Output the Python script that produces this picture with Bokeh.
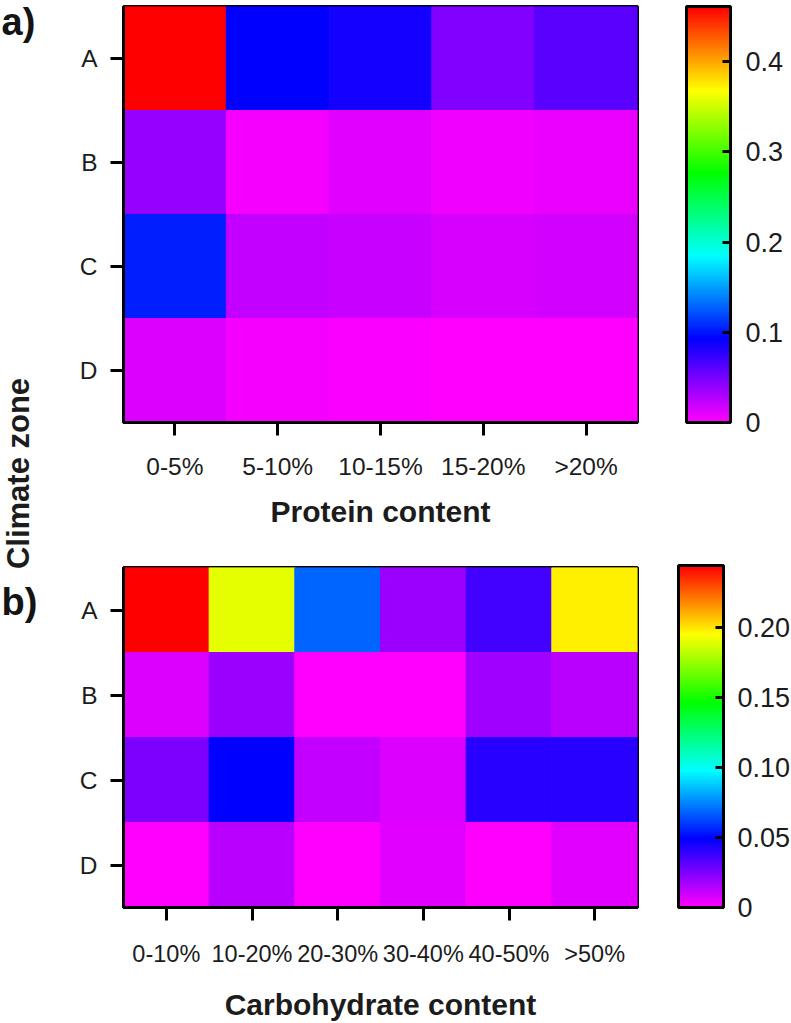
import colorsys
from math import pi

from bokeh.plotting import figure
from bokeh.models import (ColumnDataSource, LinearColorMapper, ColorBar, FixedTicker,
                          NumeralTickFormatter, Label, FactorRange, Range1d)
from bokeh.transform import transform
from bokeh.layouts import column, row
from bokeh.embed import file_html
from bokeh.resources import INLINE

# ---------------- data ----------------
zones = ["A", "B", "C", "D"]

protein_bins = ["0-5%", "5-10%", "10-15%", "15-20%", ">20%"]
protein_A = [0.460, 0.092, 0.085, 0.046, 0.061]
protein_B = [0.038, 0.004, 0.011, 0.007, 0.009]
protein_C = [0.103, 0.022, 0.020, 0.016, 0.018]
protein_D = [0.014, 0.005, 0.002, 0.000, 0.000]
protein_ticks = [0, 0.1, 0.2, 0.3, 0.4]
protein_max = 0.461

carb_bins = ["0-10%", "10-20%", "20-30%", "30-40%", "40-50%", ">50%"]
carb_A = [0.244, 0.190, 0.068, 0.020, 0.037, 0.198]
carb_B = [0.007, 0.020, 0.000, 0.000, 0.019, 0.014]
carb_C = [0.025, 0.049, 0.012, 0.007, 0.041, 0.041]
carb_D = [0.000, 0.014, 0.000, 0.006, 0.000, 0.006]
carb_ticks = [0, 0.05, 0.10, 0.15, 0.20]
carb_max = 0.244

# ---------------- style ----------------
FONT = "Liberation Sans"
TXT = "#1c1c1c"
TOTAL_W = 791
TOTAL_H = 1023
STRIP_W = 40            # narrow left strip holding the panel letters and shared y title
W = TOTAL_W - STRIP_W
LEFT = 123 - STRIP_W    # frame left edge at x = 123 on the page

# rainbow colormap: magenta -> blue -> cyan -> green -> yellow -> red
palette = []
for i in range(256):
    h = (300.0 * (1.0 - i / 255.0)) / 360.0
    r, g, b = colorsys.hsv_to_rgb(h, 1.0, 1.0)
    palette.append("#%02x%02x%02x" % (round(r * 255), round(g * 255), round(b * 255)))


def make_panel(bins, rows, vmax, ticks, fmt, xlabel, height, top, frame_w, frame_h,
               tick_font, x_standoff, title_standoff, cb_x, cb_w, cb_standoff):
    xs, ys, vs = [], [], []
    for z, rw in zip(zones, rows):
        for bn, v in zip(bins, rw):
            xs.append(bn)
            ys.append(z)
            vs.append(v)
    src = ColumnDataSource(dict(x=xs, y=ys, v=vs))
    mapper = LinearColorMapper(palette=palette, low=0, high=vmax)

    p = figure(width=W, height=height,
               x_range=FactorRange(factors=bins),
               y_range=FactorRange(factors=zones[::-1]),
               output_backend="svg", toolbar_location=None,
               min_border_left=LEFT, min_border_right=W - LEFT - frame_w,
               min_border_top=top, min_border_bottom=height - top - frame_h)
    p.rect(x="x", y="y", width=1, height=1, source=src,
           fill_color=transform("v", mapper), line_color=transform("v", mapper),
           line_width=1)

    p.grid.visible = False
    p.outline_line_color = "black"
    p.outline_line_width = 3
    p.background_fill_color = "white"
    p.border_fill_color = "white"

    for ax in (p.xaxis[0], p.yaxis[0]):
        ax.axis_line_color = "black"
        ax.axis_line_width = 3
        ax.major_tick_line_color = "black"
        ax.major_tick_line_width = 3
        ax.major_tick_out = 13
        ax.major_tick_in = 0
        ax.minor_tick_line_color = None
        ax.major_label_text_font = FONT
        ax.major_label_text_font_size = tick_font
        ax.major_label_text_color = TXT
    p.yaxis.major_label_text_font_size = "24.5px"
    p.xaxis.major_label_standoff = x_standoff
    p.yaxis.major_label_standoff = 13
    p.xaxis.axis_label = xlabel
    p.xaxis.axis_label_text_font = FONT
    p.xaxis.axis_label_text_font_style = "bold"
    p.xaxis.axis_label_text_font_size = "30px"
    p.xaxis.axis_label_text_color = TXT
    p.xaxis.axis_label_standoff = title_standoff

    cb = ColorBar(color_mapper=mapper, ticker=FixedTicker(ticks=ticks),
                  formatter=NumeralTickFormatter(format=fmt),
                  major_label_overrides={0: "0"},
                  location=(cb_x, 0), width=cb_w, height=frame_h,
                  padding=0, margin=0,
                  bar_line_color="black", bar_line_width=3,
                  major_tick_in=8, major_tick_out=0,
                  major_tick_line_color="black", major_tick_line_width=3,
                  minor_tick_line_color=None,
                  label_standoff=cb_standoff,
                  major_label_text_font=FONT,
                  major_label_text_font_size="27px",
                  major_label_text_color=TXT,
                  border_line_color=None, background_fill_color=None)
    p.add_layout(cb)
    return p


HA = 562
HB = TOTAL_H - HA

# panel a: frame x 123-644, y 6-422
pA = make_panel(protein_bins, [protein_A, protein_B, protein_C, protein_D],
                protein_max, protein_ticks, "0.0", "Protein content",
                height=HA, top=6, frame_w=521, frame_h=416, tick_font="24.5px",
                x_standoff=17, title_standoff=12, cb_x=563, cb_w=44, cb_standoff=15)

# panel b: frame x 123-637, y 567-909
pB = make_panel(carb_bins, [carb_A, carb_B, carb_C, carb_D],
                carb_max, carb_ticks, "0.00", "Carbohydrate content",
                height=HB, top=5, frame_w=514, frame_h=342, tick_font="23.5px",
                x_standoff=20, title_standoff=18, cb_x=555, cb_w=45, cb_standoff=14)

# left strip: its frame covers the whole strip, coordinates are page pixels (y up)
strip = figure(width=STRIP_W, height=TOTAL_H,
               x_range=Range1d(0, STRIP_W), y_range=Range1d(0, TOTAL_H),
               output_backend="svg", toolbar_location=None, min_border=0)
strip.axis.visible = False
strip.grid.visible = False
strip.outline_line_color = None
strip.background_fill_color = "white"
strip.border_fill_color = "white"

strip.add_layout(Label(x=1, y=TOTAL_H - 21, text="a)",
                       text_font=FONT, text_font_style="bold", text_font_size="38px",
                       text_color="#141414", text_align="left", text_baseline="alphabetic"))
strip.add_layout(Label(x=17.5, y=TOTAL_H - 473, text="Climate zone", angle=pi / 2,
                       text_font=FONT, text_font_style="bold", text_font_size="31px",
                       text_color=TXT, text_align="center", text_baseline="middle"))
strip.add_layout(Label(x=1, y=TOTAL_H - 601, text="b)",
                       text_font=FONT, text_font_style="bold", text_font_size="38px",
                       text_color="#141414", text_align="left", text_baseline="alphabetic"))

layout = row(strip, column(pA, pB, spacing=0), spacing=0)

with open("out.html", "w") as f:
    f.write(file_html(layout, INLINE))
